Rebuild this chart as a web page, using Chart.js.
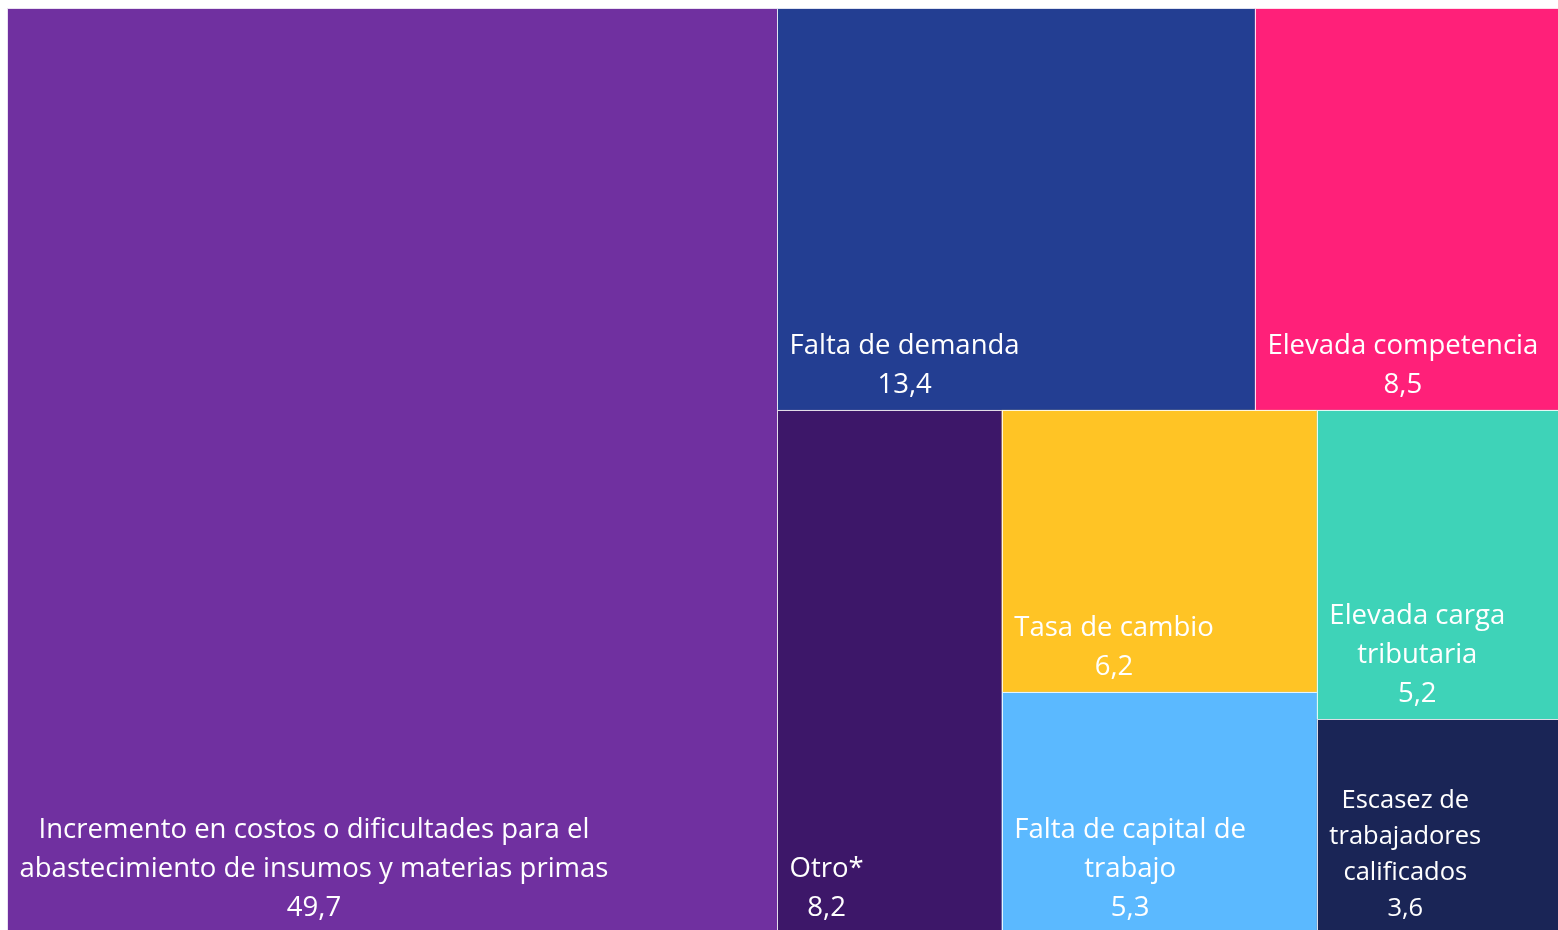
<!DOCTYPE html>
<html>
<head>
<meta charset="utf-8">
<script src="https://cdn.jsdelivr.net/npm/chart.js@4.4.1/dist/chart.umd.min.js"></script>
<style>
  html, body { margin: 0; padding: 0; background: #ffffff; }
  #wrap { width: 1558px; height: 930px; }
</style>
</head>
<body>
<div id="wrap"><canvas id="c" width="1558" height="930"></canvas></div>
<script>
// ---- data ----
const categories = [
  ["Incremento en costos o dificultades para el", "abastecimiento de insumos y materias primas"],
  ["Falta de demanda"],
  ["Elevada competencia"],
  ["Otro*"],
  ["Tasa de cambio"],
  ["Falta de capital de", "trabajo"],
  ["Elevada carga", "tributaria"],
  ["Escasez de", "trabajadores", "calificados"]
];
const values = [49.7, 13.4, 8.5, 8.2, 6.2, 5.3, 5.2, 3.6];
const colors = ["#7030A0", "#233E92", "#FF2079", "#3D1769", "#FFC425", "#5BB9FF", "#3ED3B8", "#1A2556"];
// number of cells in each successive strip of the treemap layout
const stripSizes = [1, 2, 1, 2, 2];

// ---- treemap layout in data units ----
const AREA = { x0: 0, y0: 0, x1: 1551, y1: 925 };
function layout() {
  const cells = [];
  let r = { ...AREA };
  let idx = 0;
  let remaining = values.reduce((a, b) => a + b, 0);
  for (const n of stripSizes) {
    const items = values.slice(idx, idx + n).map((v, k) => ({ v, i: idx + k }));
    const s = items.reduce((a, b) => a + b.v, 0);
    const w = r.x1 - r.x0, h = r.y1 - r.y0;
    const last = Math.abs(s - remaining) < 1e-9;
    const stackVert = last ? (h >= w) : (w >= h);
    if (stackVert) {
      const cw = s / remaining * w;
      let y = r.y0;
      for (const it of items) {
        const ch = it.v / s * h;
        cells[it.i] = { x0: r.x0, x1: r.x0 + cw, y0: y, y1: y + ch };
        y += ch;
      }
      r.x0 += cw;
    } else {
      const chh = s / remaining * h;
      let x = r.x0;
      for (const it of items) {
        const cw = it.v / s * w;
        cells[it.i] = { x0: x, x1: x + cw, y0: r.y0, y1: r.y0 + chh };
        x += cw;
      }
      r.y0 += chh;
    }
    remaining -= s;
    idx += n;
  }
  return cells;
}
const cells = layout();

const treemapPlugin = {
  id: 'treemapCells',
  afterDatasetsDraw(chart) {
    const ctx = chart.ctx;
    const xs = chart.scales.x, ys = chart.scales.y;
    ctx.save();
    cells.forEach((c, i) => {
      const px0 = xs.getPixelForValue(c.x0), px1 = xs.getPixelForValue(c.x1);
      const py0 = ys.getPixelForValue(c.y0), py1 = ys.getPixelForValue(c.y1);
      ctx.fillStyle = colors[i];
      ctx.fillRect(px0, py0, px1 - px0, py1 - py0);
      ctx.strokeStyle = 'rgba(255,255,255,0.85)';
      ctx.lineWidth = 1;
      ctx.strokeRect(Math.round(px0) + 0.5, Math.round(py0) + 0.5, Math.round(px1 - px0), Math.round(py1 - py0));
    });
    cells.forEach((c, i) => {
      const px0 = xs.getPixelForValue(c.x0);
      const py1 = ys.getPixelForValue(c.y1), py0 = ys.getPixelForValue(c.y0);
      const lines = categories[i].concat([values[i].toFixed(1).replace('.', ',')]);
      let size = 27.5, lh = 39;
      if (lines.length * lh > 0.6 * (py1 - py0)) { size = 25.5; lh = 36; }
      ctx.font = size + 'px "Open Sans"';
      ctx.fillStyle = '#ffffff';
      ctx.textAlign = 'center';
      ctx.textBaseline = 'alphabetic';
      const bw = Math.max(...lines.map(l => ctx.measureText(l).width));
      const cx = px0 + 12.5 + bw / 2;
      let base = py1 - 17 - (lines.length - 1) * lh;
      lines.forEach(l => { ctx.fillText(l, cx, base); base += lh; });
    });
    ctx.restore();
  }
};

new Chart(document.getElementById('c'), {
  type: 'scatter',
  data: {
    datasets: [{
      label: 'treemap',
      data: cells.map((c, i) => ({ x: (c.x0 + c.x1) / 2, y: (c.y0 + c.y1) / 2, v: values[i] })),
      pointRadius: 0,
      pointHoverRadius: 0
    }]
  },
  options: {
    responsive: false,
    animation: false,
    layout: { padding: { left: 7, top: 8, right: 0, bottom: 0 } },
    plugins: { legend: { display: false }, tooltip: { enabled: false } },
    scales: {
      x: { type: 'linear', display: false, min: 0, max: 1551 },
      y: { type: 'linear', display: false, min: 0, max: 922, reverse: true }
    }
  },
  plugins: [treemapPlugin]
});
</script>
</body>
</html>
